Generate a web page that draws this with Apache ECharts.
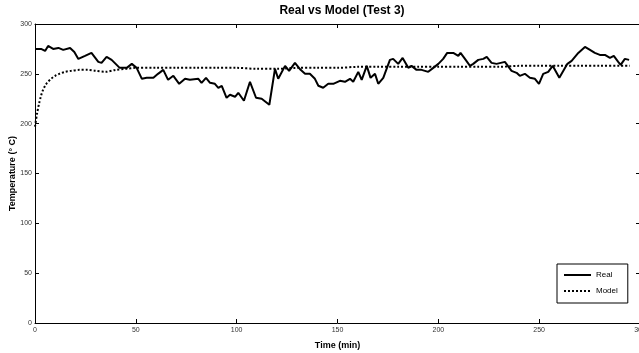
<!DOCTYPE html>
<html>
<head>
<meta charset="utf-8">
<script src="https://cdn.jsdelivr.net/npm/echarts@6/dist/echarts.min.js"></script>
<style>
html,body{margin:0;padding:0;background:#fff;}
#c{width:639px;height:353px;}
</style>
</head>
<body>
<div id="c"></div>
<script>
// ---- data ----
const realTime = [0,0.8,3,5,6.5,7.4,9,11.6,14,17.4,19.5,21.5,24.8,28,31.4,33,35.5,38,42,45.5,48,50.4,53,55.4,58.7,61,63.6,66,68.6,71.5,74.4,76.8,81,82.6,84.8,86.8,89.2,90.9,92.6,95,96.7,99.2,100.8,103.6,106.6,109.6,112.4,116.2,119,120.6,124,126,128.9,131.7,133.9,136.3,138.8,140.5,142.9,145.4,147.9,151.2,153.7,156.2,157.8,160.3,162,164.5,166.4,168.6,170.2,172.7,176,177.6,180.1,182.3,185.1,186.7,189.2,191.7,195,197.5,200,202.4,204.4,207.4,209.9,211,213.2,215.7,217.3,219.8,222.3,224,226.4,228.9,233,236.3,238.8,240.4,242.9,245.4,247.9,249.9,252,254.5,256.7,260,264,266.1,269.4,272.7,275.2,277.6,280.1,282.6,285.1,287,289.2,290.4,292.5,294.6];
const realTemp = [275,276,275,273,278,280,275,276,274,276,272,265,268,271,262,261,267,264,256,256,260,256,245,246,246,250,254,244,248,240,245,244,245,241,246,241,240,236,238,226,229,227,231,223,242,226,225,219,255,245,258,253,261,254,250,250,245,238,236,240,240,243,242,245,242,252,244,258,246,250,240,246,264,265,260,266,256,258,254,254,252,256,260,265,271,271,268,271,265,258,260,264,265,267,261,260,262,253,251,248,250,246,245,240,250,252,258,246,260,263,271,277,274,271,269,269,266,268,262,259,265,264];
const modelTime = [0,1,2,3,4,5,6,8,10,12,15,18,22,26,30,35,40,45,50,60,70,80,90,100,110,120,130,140,150,160,170,180,190,200,210,220,230,240,250,260,270,280,290,295];
const modelTemp = [197,210,220,228,234,238,241,245,248,250,252,253,254,254,253,252,254,255,256,256,256,256,256,256,255,255,256,256,256,257,257,257,257,257,257,257,257,258,258,258,258,258,258,258];
const xTicks = {min:0, max:300, interval:50};
const yTicks = {min:0, max:300, interval:50};
const titleText = 'Real vs Model (Test 3)';
const xName = 'Time (min)';
const yName = 'Temperature (° C)';
const seriesNames = ['Real','Model'];

const realData = realTime.map((t,i)=>[t, realTemp[i]]);
const modelData = modelTime.map((t,i)=>[t, modelTemp[i]]);

const FONT = 'Liberation Sans, Arial, sans-serif';
const lbl = {fontSize:7, color:'#333', fontFamily:FONT};
const axLine = {show:true, onZero:false, lineStyle:{color:'#000', width:1}};
const tick = {show:true, inside:true, length:4, lineStyle:{color:'#000', width:1}};

const chart = echarts.init(document.getElementById('c'), null, {renderer:'canvas'});
chart.setOption({
  animation:false,
  backgroundColor:'#fff',
  title:{text:titleText, left:337, textAlign:'center', top:0,
    textStyle:{fontSize:12, fontWeight:'bold', color:'#000', fontFamily:FONT}},
  grid:{left:35, top:24, width:605, height:299, containLabel:false, outerBoundsMode:'none'},
  legend:{
    data:seriesNames, orient:'vertical', left:557, top:264,
    padding:[7,10,8,6], itemGap:8, itemWidth:27, itemHeight:10,
    borderColor:'#000', borderWidth:1, backgroundColor:'#fff',
    itemStyle:{opacity:0},
    textStyle:{fontSize:8, color:'#000', fontFamily:FONT}
  },
  xAxis:[
    {type:'value', min:xTicks.min, max:xTicks.max, interval:xTicks.interval, position:'bottom',
     name:xName, nameLocation:'middle', nameGap:18, nameMoveOverlap:false,
     nameTextStyle:{fontSize:9, fontWeight:'bold', color:'#000', fontFamily:FONT},
     axisLine:axLine, axisTick:tick, splitLine:{show:false},
     axisLabel:Object.assign({margin:4, showMaxLabel:true}, lbl)},
    {type:'value', min:xTicks.min, max:xTicks.max, interval:xTicks.interval, position:'top',
     axisLine:axLine, axisTick:tick, splitLine:{show:false}, axisLabel:{show:false}}
  ],
  yAxis:[
    {type:'value', min:yTicks.min, max:yTicks.max, interval:yTicks.interval, position:'left',
     name:yName, nameLocation:'middle', nameGap:18, nameRotate:90, nameMoveOverlap:false,
     nameTextStyle:{fontSize:9, fontWeight:'bold', color:'#000', fontFamily:FONT},
     axisLine:axLine, axisTick:tick, splitLine:{show:false},
     axisLabel:Object.assign({margin:3}, lbl)},
    {type:'value', min:yTicks.min, max:yTicks.max, interval:yTicks.interval, position:'right',
     axisLine:axLine, axisTick:tick, splitLine:{show:false}, axisLabel:{show:false}}
  ],
  series:[
    {name:seriesNames[0], type:'line', data:realData, symbol:'none', showSymbol:false,
     lineStyle:{color:'#000', width:2}, itemStyle:{color:'#000'}, z:3},
    {name:seriesNames[1], type:'line', data:modelData, symbol:'none', showSymbol:false, smooth:0.3,
     lineStyle:{color:'#000', width:2, type:[2,2]}, itemStyle:{color:'#000'}, z:2}
  ]
});
</script>
</body>
</html>
